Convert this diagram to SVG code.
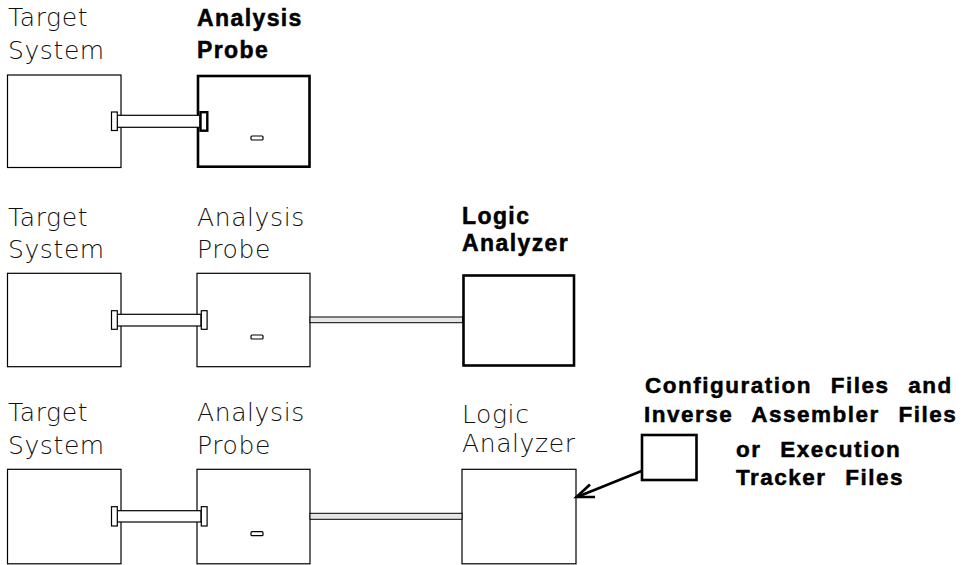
<svg xmlns="http://www.w3.org/2000/svg" width="980" height="565" viewBox="0 0 980 565">
<style>
.thin{fill:none;stroke:#000;stroke-width:1.2}
.bold{fill:none;stroke:#000;stroke-width:2.6}
.plug{fill:#fff;stroke:#000;stroke-width:1.2}
.plugb{fill:#fff;stroke:#000;stroke-width:2.4}
.lt{font-family:"DejaVu Sans",sans-serif;font-weight:200;font-size:25px;fill:#111;letter-spacing:0.6px}
.bt{font-family:"Liberation Sans",Arial,sans-serif;font-weight:bold;font-size:23px;fill:#000;stroke:#000;stroke-width:0.5;letter-spacing:1.4px}
.rt{font-family:"Liberation Sans",Arial,sans-serif;font-weight:bold;font-size:22.5px;fill:#000;stroke:#000;stroke-width:0.5;letter-spacing:1.5px;word-spacing:11px}
.cab{fill:#e6e6e6;stroke:#000;stroke-width:1}
.led{fill:#fff;stroke:#000;stroke-width:1.2}
</style>
<rect width="980" height="565" fill="#fff"/>

<!-- Row 1 -->
<g id="target1">
<rect class="thin" x="7.5" y="75" width="113.5" height="92.5"/>
<text class="lt" x="8" y="26">Target</text>
<text class="lt" x="8" y="58.5">System</text>
</g>
<g id="probe1">
<rect class="bold" x="198" y="76" width="111.5" height="90.7"/>
<rect class="led" x="251" y="136" width="12" height="4" rx="1"/>
<text class="bt" x="197" y="26">Analysis</text>
<text class="bt" x="197" y="58">Probe</text>
</g>

<!-- Row 2 -->
<g id="target2">
<rect class="thin" x="7.5" y="273.3" width="113.5" height="93.4"/>
<text class="lt" x="8" y="226">Target</text>
<text class="lt" x="8" y="258">System</text>
</g>
<g id="probe2">
<rect class="thin" x="197" y="273.3" width="113" height="93.4"/>
<rect class="led" x="251" y="335" width="12" height="4" rx="1"/>
<text class="lt" x="197" y="226">Analysis</text>
<text class="lt" x="197" y="258">Probe</text>
</g>
<g id="analyzer2">
<rect class="bold" x="463.5" y="275.5" width="110.5" height="90"/>
<text class="bt" x="462" y="223.5">Logic</text>
<text class="bt" x="462" y="251">Analyzer</text>
</g>

<!-- Row 3 -->
<g id="target3">
<rect class="thin" x="7.5" y="469.3" width="113.5" height="94.5"/>
<text class="lt" x="8" y="421">Target</text>
<text class="lt" x="8" y="454">System</text>
</g>
<g id="probe3">
<rect class="thin" x="197" y="469.3" width="113" height="94.5"/>
<rect class="led" x="251" y="531.7" width="12" height="4" rx="1"/>
<text class="lt" x="197" y="421">Analysis</text>
<text class="lt" x="197" y="454">Probe</text>
</g>
<g id="analyzer3">
<rect class="thin" x="462" y="469.3" width="114" height="94.5"/>
<text class="lt" x="462" y="422.5">Logic</text>
<text class="lt" x="462" y="452">Analyzer</text>
</g>
<g id="files">
<rect class="bold" x="642" y="435" width="54.5" height="45"/>
<text class="rt" x="645" y="393">Configuration Files and</text>
<text class="rt" x="644" y="422">Inverse Assembler Files</text>
<text class="rt" x="736" y="456.7">or Execution</text>
<text class="rt" x="736" y="485">Tracker Files</text>
</g>

<!-- Connectors -->
<g id="connectors">
<!-- row 1 cable -->
<rect class="plug" x="117" y="115.3" width="83" height="12"/>
<rect class="plug" x="111.5" y="112" width="5.8" height="18.5"/>
<rect class="plugb" x="200.5" y="112.2" width="6.8" height="18.5"/>
<!-- row 2 cable -->
<rect class="plug" x="117" y="314.3" width="84" height="11.7"/>
<rect class="plug" x="111.5" y="310.7" width="5.8" height="18.6"/>
<rect class="plug" x="201.3" y="310.7" width="5.8" height="18.6"/>
<rect class="cab" x="310" y="317" width="152.5" height="5.7"/>
<!-- row 3 cable -->
<rect class="plug" x="117" y="510.7" width="84" height="11.3"/>
<rect class="plug" x="111.5" y="506.7" width="5.8" height="19.3"/>
<rect class="plug" x="201.3" y="506.7" width="5.8" height="19.3"/>
<rect class="cab" x="310" y="513.3" width="152" height="6"/>
<!-- arrow -->
<line x1="641.5" y1="471" x2="577" y2="497" stroke="#000" stroke-width="2.6"/>
<polyline points="590,484.5 576.5,497 595,497" fill="none" stroke="#000" stroke-width="2.6" stroke-linejoin="miter"/>
</g>
</svg>
